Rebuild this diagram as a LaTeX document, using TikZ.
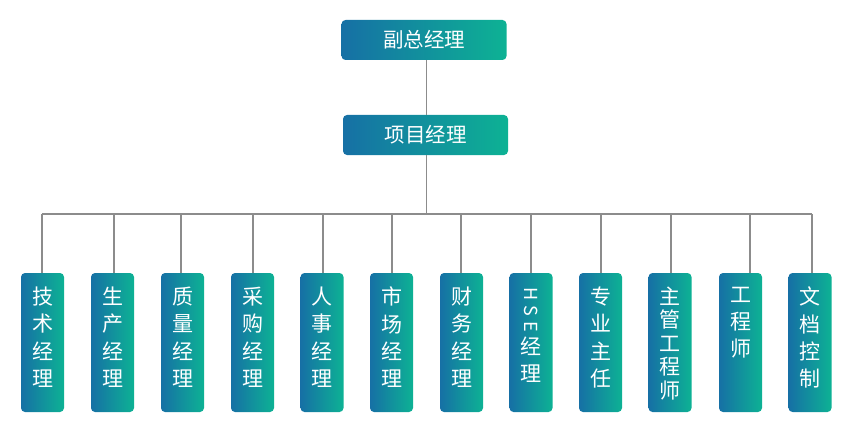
\documentclass[tikz,border=0pt]{standalone}
\usepackage{fontspec}
\newfontfamily\cjk{Noto Sans CJK SC}
\definecolor{gblue}{HTML}{1670A5}
\definecolor{gteal}{HTML}{0DB294}
\definecolor{lgray}{HTML}{8C8C8C}
\begin{document}
\begin{tikzpicture}[x=1pt,y=-1pt,
  topbox/.style={rounded corners=4pt, left color=gblue, right color=gteal, minimum width=165pt, minimum height=40pt, font=\cjk\fontsize{20.5}{24}\selectfont, text=white, inner sep=0pt},
  subbox/.style={rounded corners=4pt, left color=gblue, right color=gteal, minimum width=43pt, minimum height=139pt, inner sep=0pt},
  subtext/.style={font=\cjk\fontsize{21}{27.3}\selectfont, text=white, align=center, anchor=north, inner sep=0pt},
  link/.style={draw=lgray, line width=1.1pt}]
\useasboundingbox (0,0) rectangle (853,441);
\coordinate (bus) at (426.5,214);
\coordinate (busL) at (42,214);
\coordinate (busR) at (812,214);
\foreach \i/\x in {1/42,2/114,3/181,4/253,5/323,6/392,7/461,8/531,9/601,10/671,11/750,12/812}{
  \coordinate (d\i) at (\x,214);
}
% boxes
\node[topbox] (gm) at (424,40) {副总经理};
\node[topbox] (pm) at (425.5,135) {项目经理};
\foreach \i/\x in {1/42.5,2/112.5,3/182.5,4/252.5,5/322,6/391.5,7/461.5,8/531,9/600.5,10/670,11/740.5,12/810}{
  \node[subbox] (b\i) at (\x,342.5) {};
}
% connectors
\draw[link] (gm.south -| bus) -- (pm.north -| bus);
\draw[link] (pm.south -| bus) -- (bus);
\draw[link] (busL) -- (busR);
\foreach \i in {1,...,12}{
  \draw[link] (d\i) -- (b\i.north -| d\i);
}
% texts
\node[subtext] (t1) at ([yshift=-14pt]b1.north) {技\\术\\经\\理};
\node[subtext] (t2) at ([yshift=-14pt]b2.north) {生\\产\\经\\理};
\node[subtext] (t3) at ([yshift=-14pt]b3.north) {质\\量\\经\\理};
\node[subtext] (t4) at ([yshift=-14pt]b4.north) {采\\购\\经\\理};
\node[subtext] (t5) at ([yshift=-14pt]b5.north) {人\\事\\经\\理};
\node[subtext] (t6) at ([yshift=-14pt]b6.north) {市\\场\\经\\理};
\node[subtext] (t7) at ([yshift=-14pt]b7.north) {财\\务\\经\\理};
\node[rotate=-90, font=\cjk\fontsize{18}{20}\selectfont, text=white, inner sep=0pt] (t8a) at ([yshift=-37pt]b8.north) {H\hspace{5pt}S\hspace{5pt}E};
\node[subtext] (t8) at ([yshift=-64pt]b8.north) {经\\理};
\node[subtext] (t9) at ([yshift=-14pt]b9.north) {专\\业\\主\\任};
\node[subtext, font=\cjk\fontsize{21}{23.4}\selectfont] (t10) at ([yshift=-14pt]b10.north) {主\\管\\工\\程\\师};
\node[subtext] (t11) at ([yshift=-14pt]b11.north) {工\\程\\师};
\node[subtext] (t12) at ([yshift=-14pt]b12.north) {文\\档\\控\\制};
\end{tikzpicture}
\end{document}
